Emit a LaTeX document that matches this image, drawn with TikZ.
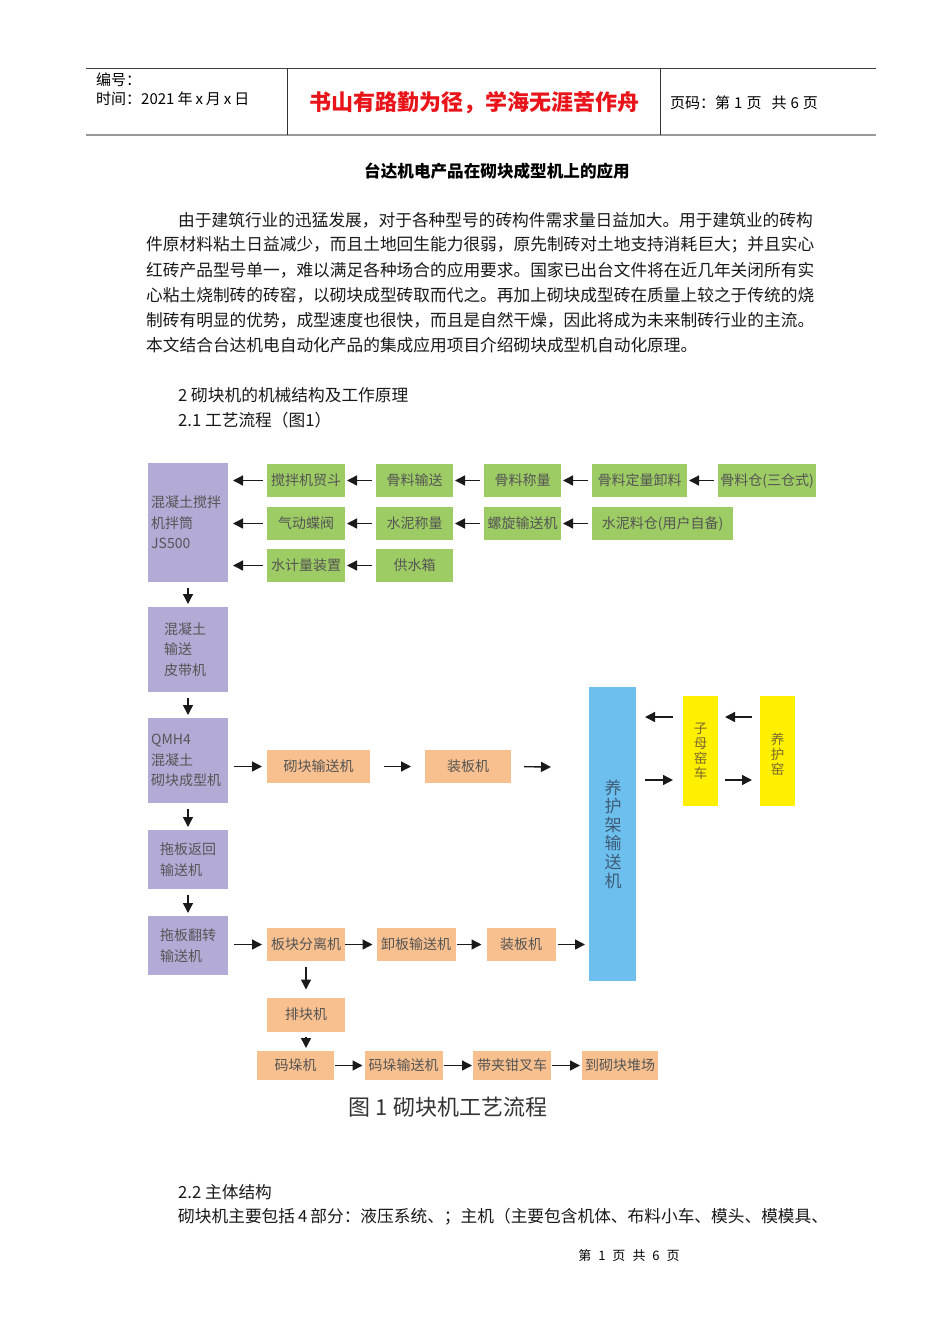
\documentclass[tikz,border=0pt]{standalone}
\usepackage{fontspec}
\setmainfont{Noto Sans CJK SC}
\usetikzlibrary{arrows.meta}
\definecolor{pur}{HTML}{B4AAD6}
\definecolor{grn}{HTML}{9DCB64}
\definecolor{org}{HTML}{F8C08E}
\definecolor{blu}{HTML}{6DC0EE}
\definecolor{yel}{HTML}{FFF000}
\definecolor{boxtxt}{HTML}{555555}
\definecolor{ytxt}{HTML}{7A6A30}
\definecolor{btxt}{HTML}{3E5C78}
\definecolor{arrc}{HTML}{1A1A1A}
\definecolor{hred}{HTML}{E8141A}
\newcommand\boxfontx{\fontsize{14}{16}\selectfont}
\tikzset{
 boxbase/.style={draw=none, inner sep=0pt, outer sep=0pt, text=boxtxt, font=\boxfontx},
 pbox/.style={boxbase, fill=pur, minimum width=80pt},
 gbox/.style={boxbase, fill=grn, minimum height=33pt},
 obox/.style={boxbase, fill=org, minimum height=33pt},
 ybox/.style={boxbase, fill=yel, minimum width=35pt, minimum height=110pt},
 arr/.style={draw=arrc, line width=1.4pt, -{Triangle[length=10pt,width=10pt]}},
 ptxt/.style={inner sep=0pt, anchor=west, align=left, text=boxtxt, font=\fontsize{14}{20.5}\selectfont},
 body/.style={inner sep=0pt, anchor=west, text=black!90, font=\fontsize{16.7}{20}\selectfont},
 hdr/.style={inner sep=0pt, anchor=west, text=black, font=\fontsize{15}{18}\selectfont},
 vtxt/.style={inner sep=0pt, align=center, text=ytxt, font=\fontsize{13.5}{15}\selectfont},
}
\begin{document}
\begin{tikzpicture}[x=1pt,y=-1pt]
\path[use as bounding box, fill=white] (0,0) rectangle (950,1344);
% ---------- header ----------
\draw[line width=0.8pt, color=black!75] (86,68) -- (876,68);
\draw[line width=2pt, color=black!40] (86,135) -- (876,135);
\draw[line width=0.8pt, color=black!80] (287,68) -- (287,135) (660,68) -- (660,135);
\node[hdr] (hno) at (96,80) {编号：};
\node[hdr] (htime) at (96,99) {时间：2021\hspace{3pt}年\hspace{3pt}x\hspace{3pt}月\hspace{3pt}x\hspace{3pt}日};
\node[inner sep=0pt, text=hred, font=\fontsize{22}{24}\selectfont\bfseries] (hmotto) at (474,103) {书山有路勤为径，学海无涯苦作舟};
\node[hdr] (hpage) at (670,103) {页码：第\hspace{4pt}1\hspace{4pt}页\hspace{10pt}共\hspace{4pt}6\hspace{4pt}页};
% ---------- title and text ----------
\node[inner sep=0pt, font=\fontsize{16.6}{20}\selectfont\bfseries] (title) at (497,171) {台达机电产品在砌块成型机上的应用};
\node[body] (l1) at (178,220) {由于建筑行业的迅猛发展，对于各种型号的砖构件需求量日益加大。用于建筑业的砖构};
\node[body] (l2) at (146,245) {件原材料粘土日益减少，而且土地回生能力很弱，原先制砖对土地支持消耗巨大；并且实心};
\node[body] (l3) at (146,270) {红砖产品型号单一，难以满足各种场合的应用要求。国家已出台文件将在近几年关闭所有实};
\node[body] (l4) at (146,295) {心粘土烧制砖的砖窑，以砌块成型砖取而代之。再加上砌块成型砖在质量上较之于传统的烧};
\node[body] (l5) at (146,320) {制砖有明显的优势，成型速度也很快，而且是自然干燥，因此将成为未来制砖行业的主流。};
\node[body] (l6) at (146,345) {本文结合台达机电自动化产品的集成应用项目介绍砌块成型机自动化原理。};
\node[body] (s2) at (178,395) {2 砌块机的机械结构及工作原理};
\node[body] (s21) at (178,420) {2.1 工艺流程（图1）};
% ---------- purple column ----------
\node[pbox, minimum height=119pt] (p1) at (188,522.5) {};
\node[ptxt] (p1t) at (151,522.5) {混凝土搅拌\\机拌筒\\JS500};
\node[pbox, minimum height=85pt] (p2) at (188,649.5) {};
\node[ptxt] (p2t) at (164,649.5) {混凝土\\输送\\皮带机};
\node[pbox, minimum height=85pt] (p3) at (188,760.5) {};
\node[ptxt] (p3t) at (151,760.5) {QMH4\\混凝土\\砌块成型机};
\node[pbox, minimum height=59pt] (p4) at (188,859.5) {};
\node[ptxt] (p4t) at (160,859.5) {拖板返回\\输送机};
\node[pbox, minimum height=59pt] (p5) at (188,945.5) {};
\node[ptxt] (p5t) at (160,945.5) {拖板翻转\\输送机};
% ---------- green boxes ----------
\node[gbox, minimum width=78pt] (g1) at (306,480.5) {搅拌机贸斗};
\node[gbox, minimum width=77pt] (g2) at (414.5,480.5) {骨料输送};
\node[gbox, minimum width=77pt] (g3) at (522.5,480.5) {骨料称量};
\node[gbox, minimum width=95pt] (g4) at (639.5,480.5) {骨料定量卸料};
\node[gbox, minimum width=98pt] (g5) at (767,480.5) {骨料仓(三仓式)};
\node[gbox, minimum width=78pt] (g6) at (306,523.5) {气动蝶阀};
\node[gbox, minimum width=77pt] (g7) at (414.5,523.5) {水泥称量};
\node[gbox, minimum width=77pt] (g8) at (522.5,523.5) {螺旋输送机};
\node[gbox, minimum width=141pt] (g9) at (662.5,523.5) {水泥料仓(用户自备)};
\node[gbox, minimum width=78pt] (g10) at (306,565.5) {水计量装置};
\node[gbox, minimum width=77pt] (g11) at (414.5,565.5) {供水箱};
% ---------- orange boxes ----------
\node[obox, minimum width=103pt] (o1) at (318.5,766.5) {砌块输送机};
\node[obox, minimum width=86pt] (o2) at (468,766.5) {装板机};
\coordinate (e1) at (551,767);
\node[obox, minimum width=78pt] (o3) at (306,944.5) {板块分离机};
\node[obox, minimum width=79pt] (o4) at (416,944.5) {卸板输送机};
\node[obox, minimum width=69pt] (o5) at (521,944.5) {装板机};
\node[obox, minimum width=78pt, minimum height=34pt] (o6) at (306,1014.5) {排块机};
\node[obox, minimum width=77pt, minimum height=29pt] (o7) at (295.5,1065.5) {码垛机};
\node[obox, minimum width=78pt, minimum height=29pt] (o8) at (403.5,1065.5) {码垛输送机};
\node[obox, minimum width=78pt, minimum height=29pt] (o9) at (512,1065.5) {带夹钳叉车};
\node[obox, minimum width=76pt, minimum height=29pt] (o10) at (620,1065.5) {到砌块堆场};
% ---------- blue and yellow ----------
\node[boxbase, fill=blu, minimum width=47pt, minimum height=294pt] (b) at (612.5,834) {};
\node[inner sep=0pt, align=center, text=btxt, font=\fontsize{17}{18.6}\selectfont] (bt) at (613,834) {养\\护\\架\\输\\送\\机};
\node[ybox] (y1) at (700.5,751) {};
\node[vtxt] (y1t) at (700.5,751) {子\\母\\窑\\车};
\node[ybox] (y2) at (777.5,751) {};
\node[vtxt] (y2t) at (777.5,754) {养\\护\\窑};
% ---------- arrows: green rows ----------
\draw[arr, shorten <=4pt, shorten >=5pt] (g1.west) -- (g1.west -| p1.east);
\draw[arr, shorten <=4pt, shorten >=2pt] (g2.west) -- (g1.east);
\draw[arr, shorten <=4pt, shorten >=2pt] (g3.west) -- (g2.east);
\draw[arr, shorten <=4pt, shorten >=2pt] (g4.west) -- (g3.east);
\draw[arr, shorten <=4pt, shorten >=2pt] (g5.west) -- (g4.east);
\draw[arr, shorten <=4pt, shorten >=5pt] (g6.west) -- (g6.west -| p1.east);
\draw[arr, shorten <=4pt, shorten >=2pt] (g7.west) -- (g6.east);
\draw[arr, shorten <=4pt, shorten >=2pt] (g8.west) -- (g7.east);
\draw[arr, shorten <=4pt, shorten >=2pt] (g9.west) -- (g8.east);
\draw[arr, shorten <=4pt, shorten >=5pt] (g10.west) -- (g10.west -| p1.east);
\draw[arr, shorten <=4pt, shorten >=2pt] (g11.west) -- (g10.east);
% ---------- arrows: purple column ----------
\draw[arr, shorten <=6pt, shorten >=3pt] (p1.south) -- (p2.north);
\draw[arr, shorten <=6pt, shorten >=3pt] (p2.south) -- (p3.north);
\draw[arr, shorten <=6pt, shorten >=3pt] (p3.south) -- (p4.north);
\draw[arr, shorten <=6pt, shorten >=3pt] (p4.south) -- (p5.north);
% ---------- arrows: middle row ----------
\draw[arr, shorten <=6pt, shorten >=5pt] (o1.west -| p3.east) -- (o1.west);
\draw[arr, shorten <=14pt, shorten >=14pt] (o1.east) -- (o2.west);
\draw[arr, shorten <=13pt] (o2.east) -- (e1);
% ---------- arrows: yellow ----------
\draw[arr, shorten <=10pt, shorten >=9pt] ([yshift=34pt]y1.west) -- ([yshift=34pt]y1.west -| b.east);
\draw[arr, shorten <=9pt, shorten >=10pt] ([yshift=-29pt]y1.west -| b.east) -- ([yshift=-29pt]y1.west);
\draw[arr, shorten <=8pt, shorten >=7pt] ([yshift=34pt]y2.west) -- ([yshift=34pt]y1.east);
\draw[arr, shorten <=7pt, shorten >=8pt] ([yshift=-29pt]y1.east) -- ([yshift=-29pt]y2.west);
% ---------- arrows: lower rows ----------
\draw[arr, shorten <=6pt, shorten >=5pt] (o3.west -| p5.east) -- (o3.west);
\draw[arr, shorten <=0pt, shorten >=4pt] (o3.east) -- (o4.west);
\draw[arr, shorten <=1pt, shorten >=5pt] (o4.east) -- (o5.west);
\draw[arr, shorten <=2pt, shorten >=4pt] (o5.east) -- (o5.east -| b.west);
\draw[arr, shorten <=6pt, shorten >=8pt] (o3.south) -- (o6.north);
\draw[arr, shorten <=5pt, shorten >=3pt] (o6.south) -- (o6.south |- o7.north);
\draw[arr, shorten <=1pt, shorten >=2pt] (o7.east) -- (o8.west);
\draw[arr, shorten <=1pt, shorten >=1pt] (o8.east) -- (o9.west);
\draw[arr, shorten <=1pt, shorten >=2pt] (o9.east) -- (o10.west);
% ---------- caption and following text ----------
\node[inner sep=0pt, text=black!80, font=\fontsize{22}{24}\selectfont] (cap) at (448,1107) {图\hspace{5pt}1\hspace{5pt}砌块机工艺流程};
\node[body] (s22) at (178,1192) {2.2 主体结构};
\node[body] (l7) at (178,1217) {砌块机主要包括\hspace{3pt}4\hspace{3pt}部分：液压系统、；主机（主要包含机体、布料小车、模头、模模具、};
\node[inner sep=0pt, font=\fontsize{13}{15}\selectfont] (foot) at (629,1256) {第\hspace{7pt}1\hspace{7pt}页\hspace{7pt}共\hspace{7pt}6\hspace{7pt}页};
\end{tikzpicture}
\end{document}
